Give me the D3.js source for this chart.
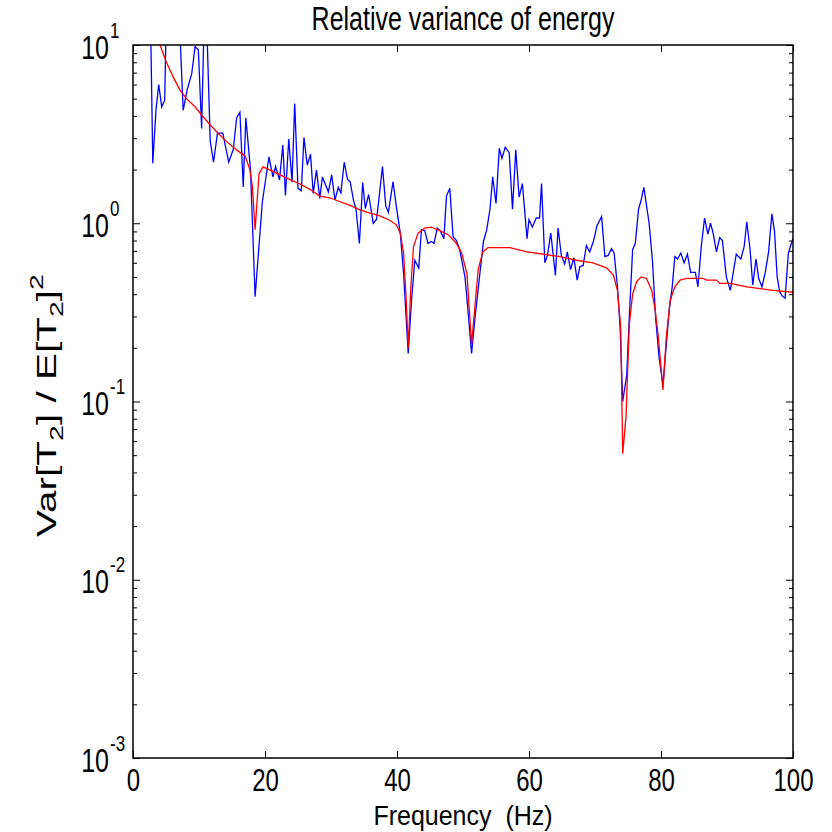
<!DOCTYPE html>
<html>
<head>
<meta charset="UTF-8">
<title>Relative variance of energy</title>
<style>
body { margin: 0; background: #fff; }
svg text { font-family: Arial, "Liberation Sans", sans-serif; fill: #000; }
.axis .domain { display: none; }
.axis line { stroke: #000; stroke-width: 1; }
</style>
</head>
<body>
<div id="chart"></div>
<script src="https://cdn.jsdelivr.net/npm/d3@7"></script>
<script>
// measured spectrum (blue)
var blueFreq = [
  2.5, 2.7, 3.0, 3.5, 3.9, 4.35, 4.8, 5.0, 6.0, 7.1,
  7.6, 8.2, 8.9, 9.4, 9.9, 10.4, 10.8, 11.2, 11.7, 12.2,
  12.8, 13.6, 14.5, 15.2, 15.7, 16.2, 16.7, 17.1, 17.8, 18.5,
  19.6, 20.6, 21.2, 21.6, 22.2, 22.7, 23.1, 23.6, 24.1, 24.5,
  25.0, 25.5, 25.9, 26.4, 26.9, 27.3, 27.8, 28.3, 28.7, 29.6,
  30.1, 30.6, 31.1, 31.5, 32.0, 32.5, 32.9, 33.4, 33.8, 34.3,
  34.8, 35.2, 35.7, 36.4, 36.9, 37.3, 37.8, 38.3, 38.7, 39.4,
  39.9, 40.5, 41.0, 41.7, 42.2, 42.7, 43.3, 43.7, 44.2, 44.7,
  45.2, 45.6, 46.1, 46.6, 47.1, 47.5, 48.0, 48.5, 49.0, 49.5,
  50.3, 50.8, 51.3, 51.8, 52.5, 53.1, 53.6, 54.1, 54.5, 55.0,
  55.5, 55.9, 56.4, 57.0, 57.5, 58.0, 58.5, 59.0, 59.7, 60.0,
  60.5, 61.1, 61.6, 61.9, 62.4, 62.8, 63.3, 64.0, 64.4, 64.9,
  65.4, 65.8, 66.3, 66.8, 67.3, 67.7, 68.2, 68.7, 69.2, 69.8,
  70.3, 71.0, 71.5, 72.0, 72.5, 72.9, 73.4, 73.8, 74.2, 74.8,
  75.2, 75.7, 76.1, 76.6, 77.0, 77.4, 78.2, 78.7, 79.2, 79.7,
  80.3, 80.9, 81.3, 81.7, 82.1, 82.5, 83.0, 83.5, 84.0, 84.5,
  85.2, 85.6, 86.1, 86.6, 87.1, 87.5, 87.9, 88.4, 88.9, 89.3,
  89.9, 90.5, 91.4, 92.1, 92.6, 93.0, 93.5, 93.9, 94.4, 94.8,
  95.3, 95.8, 96.3, 96.8, 97.2, 97.6, 98.0, 98.4, 98.8, 99.3,
  99.6, 100
];
var blueVal = [
  15, 11, 2.17, 4.4, 6.0, 4.5, 4.9, 12, 20, 12,
  4.3, 5.6, 6.9, 9.8, 9.4, 3.4, 15, 12, 2.9, 2.2,
  3.2, 3.2, 2.2, 2.6, 3.9, 4.2, 1.6, 3.9, 2.0, 0.387,
  1.32, 2.36, 1.82, 2.08, 1.75, 2.75, 1.43, 2.97, 1.7, 4.7,
  1.57, 1.52, 3.03, 2.12, 2.44, 1.47, 1.99, 1.38, 1.82, 1.5,
  1.87, 1.35, 1.59, 1.48, 2.2, 1.76, 1.71, 1.35, 1.19, 0.77,
  1.69, 1.21, 1.45, 1.0, 1.05, 1.41, 2.08, 1.25, 1.15, 1.71,
  1.24, 0.88, 0.52, 0.186, 0.37, 0.62, 0.56, 0.92, 0.91, 0.77,
  0.79, 0.77, 0.94, 0.9, 0.82, 1.42, 1.57, 0.84, 0.80, 0.71,
  0.5, 0.31, 0.186, 0.29, 0.5, 0.79, 0.92, 1.21, 1.82, 1.29,
  2.63, 2.31, 2.67, 2.49, 1.2, 2.58, 1.4, 1.67, 0.82, 1.05,
  0.95, 1.07, 1.07, 1.67, 0.6, 0.66, 0.88, 0.51, 0.94, 0.66,
  0.59, 0.69, 0.55, 0.64, 0.48, 0.57, 0.58, 0.75, 0.69, 0.8,
  0.97, 1.09, 0.65, 0.66, 0.72, 0.68, 0.44, 0.26, 0.1, 0.14,
  0.3, 0.71, 0.77, 1.2, 1.35, 1.59, 1.0, 0.62, 0.29, 0.178,
  0.124, 0.23, 0.34, 0.44, 0.65, 0.63, 0.68, 0.6, 0.67, 0.53,
  0.53, 0.44, 0.74, 1.07, 0.87, 1.0, 0.88, 0.69, 0.83, 0.8,
  0.5, 0.42, 0.67, 0.63, 0.74, 1.02, 0.71, 0.45, 0.63, 0.49,
  0.44, 0.53, 0.69, 1.13, 0.9, 0.5, 0.41, 0.39, 0.38, 0.68,
  0.74, 0.82
];

// model curve (red)
var redFreq = [
  2.5, 4.1, 5.0, 6.1, 7.1, 8.1, 9.4, 10.4, 11.7, 12.9,
  14.2, 15.7, 17.0, 17.7, 18.1, 18.5, 19.1, 19.7, 21.3, 23.3,
  25.3, 26.8, 28.3, 29.8, 31.4, 32.9, 34.4, 35.9, 37.4, 38.9,
  39.9, 40.5, 41.0, 41.4, 41.7, 42.1, 42.5, 43.2, 44.2, 45.2,
  46.5, 47.8, 49.0, 49.8, 50.6, 51.3, 51.8, 52.3, 53.0, 53.8,
  57.1, 59.7, 62.2, 64.7, 67.2, 69.7, 71.8, 72.8, 73.4, 73.9,
  74.2, 74.7, 75.2, 75.7, 76.3, 77.0, 77.8, 78.6, 79.1, 79.6,
  80.3, 80.8, 81.4, 82.1, 82.9, 83.9, 86.4, 86.9, 88.4, 88.9,
  90.5, 93.0, 95.0, 97.0, 100
];
var redVal = [
  20, 10, 8.1, 6.6, 5.6, 5.0, 4.5, 4.05, 3.56, 3.2,
  2.87, 2.58, 2.38, 2.0, 1.6, 0.92, 1.9, 2.07, 1.95, 1.79,
  1.66, 1.55, 1.42, 1.39, 1.32, 1.26, 1.19, 1.14, 1.1, 1.04,
  0.98, 0.88, 0.68, 0.37, 0.2, 0.44, 0.74, 0.88, 0.94, 0.95,
  0.91, 0.86, 0.77, 0.68, 0.52, 0.21, 0.34, 0.55, 0.69, 0.73,
  0.73, 0.69, 0.67, 0.65, 0.62, 0.6, 0.56, 0.51, 0.42, 0.26,
  0.051, 0.082, 0.27, 0.4, 0.47, 0.5, 0.49, 0.42, 0.33, 0.23,
  0.116, 0.23, 0.37, 0.44, 0.48, 0.49, 0.49, 0.48, 0.48, 0.46,
  0.46, 0.44, 0.43, 0.42, 0.41
];

var xTicks = [0, 20, 40, 60, 80, 100];
var yTicks = [1e-3, 1e-2, 1e-1, 1e0, 1e1];
var yExp = ["-3", "-2", "-1", "0", "1"];

var W = 832, H = 832;
var m = { top: 45, left: 133, right: 39, bottom: 74 };
var pw = W - m.left - m.right, ph = H - m.top - m.bottom;

var svg = d3.select("#chart").append("svg")
  .attr("width", W).attr("height", H);

var x = d3.scaleLinear().domain([0, 100]).range([0, pw]);
var y = d3.scaleLog().domain([1e-3, 10]).range([ph, 0]);

var g = svg.append("g").attr("transform", "translate(" + m.left + "," + m.top + ")");

g.append("clipPath").attr("id", "clip")
  .append("rect").attr("width", pw).attr("height", ph);

// the original figure draws its text tall and narrow
function tallText(parent, tx, ty, size, anchor, str, k) {
  return parent.append("g")
    .attr("transform", "translate(" + tx + "," + ty + ") scale(1," + (k || 1.3) + ")")
    .append("text")
    .attr("text-anchor", anchor)
    .attr("font-size", size + "px")
    .text(str);
}

// minor ticks on the log axis
var minor = [];
yTicks.slice(0, -1).forEach(function(d) {
  for (var k = 2; k <= 9; k++) minor.push(d * k);
});

// x axis bottom / top
var xb = g.append("g").attr("class", "axis")
  .attr("transform", "translate(0," + ph + ")")
  .call(d3.axisBottom(x).tickValues(xTicks).tickSizeInner(-7).tickSizeOuter(0).tickFormat(""));
xb.selectAll(".tick").each(function(d) {
  tallText(d3.select(this), 0, 33, 24, "middle", d);
});
g.append("g").attr("class", "axis")
  .call(d3.axisTop(x).tickValues(xTicks).tickSizeInner(-7).tickSizeOuter(0).tickFormat(""));

// y axis left / right
var yl = g.append("g").attr("class", "axis")
  .call(d3.axisLeft(y).tickValues(yTicks).tickSizeInner(-7).tickSizeOuter(0).tickFormat(""));
g.append("g").attr("class", "axis")
  .call(d3.axisLeft(y).tickValues(minor).tickSizeInner(-4).tickSizeOuter(0).tickFormat(""));
g.append("g").attr("class", "axis")
  .attr("transform", "translate(" + pw + ",0)")
  .call(d3.axisRight(y).tickValues(yTicks).tickSizeInner(-7).tickSizeOuter(0).tickFormat(""));
g.append("g").attr("class", "axis")
  .attr("transform", "translate(" + pw + ",0)")
  .call(d3.axisRight(y).tickValues(minor).tickSizeInner(-4).tickSizeOuter(0).tickFormat(""));

// 10^n labels
yl.selectAll(".tick").each(function(d, i) {
  var t = d3.select(this);
  tallText(t, -24, 13, 25, "end", "10");
  tallText(t, -23, -8, 17, "start", yExp[i]);
});

// lines
var line = d3.line()
  .x(function(d) { return x(d[0]); })
  .y(function(d) { return y(d[1]); });

var lines = g.append("g").attr("clip-path", "url(#clip)");
lines.append("path")
  .datum(blueFreq.map(function(f, i) { return [f, blueVal[i]]; }))
  .attr("d", line).attr("fill", "none").attr("stroke", "#0000ff").attr("stroke-width", 1.3);
lines.append("path")
  .datum(redFreq.map(function(f, i) { return [f, redVal[i]]; }))
  .attr("d", line).attr("fill", "none").attr("stroke", "#ff0000").attr("stroke-width", 1.3);

// frame
g.append("rect").attr("width", pw).attr("height", ph)
  .attr("fill", "none").attr("stroke", "#000").attr("stroke-width", 1.5);

// titles
tallText(svg, m.left + pw / 2, 30, 25, "middle", "Relative variance of energy");
tallText(svg, m.left + pw / 2, 825, 25, "middle", "Frequency  (Hz)", 1.1)
  .style("white-space", "pre");

var yt = svg.append("g")
  .attr("transform", "translate(56," + (m.top + ph / 2 + 4) + ") rotate(-90) scale(1.5,1)")
  .append("text")
  .attr("text-anchor", "middle").attr("font-size", "27px");
yt.append("tspan").text("Var[T");
yt.append("tspan").attr("font-size", "19px").attr("dy", 7).text("2");
yt.append("tspan").attr("dy", -7).text("] / E[T");
yt.append("tspan").attr("font-size", "19px").attr("dy", 7).text("2");
yt.append("tspan").attr("dy", -7).text("]");
yt.append("tspan").attr("font-size", "19px").attr("dy", -13).text("2");
</script>
</body>
</html>
